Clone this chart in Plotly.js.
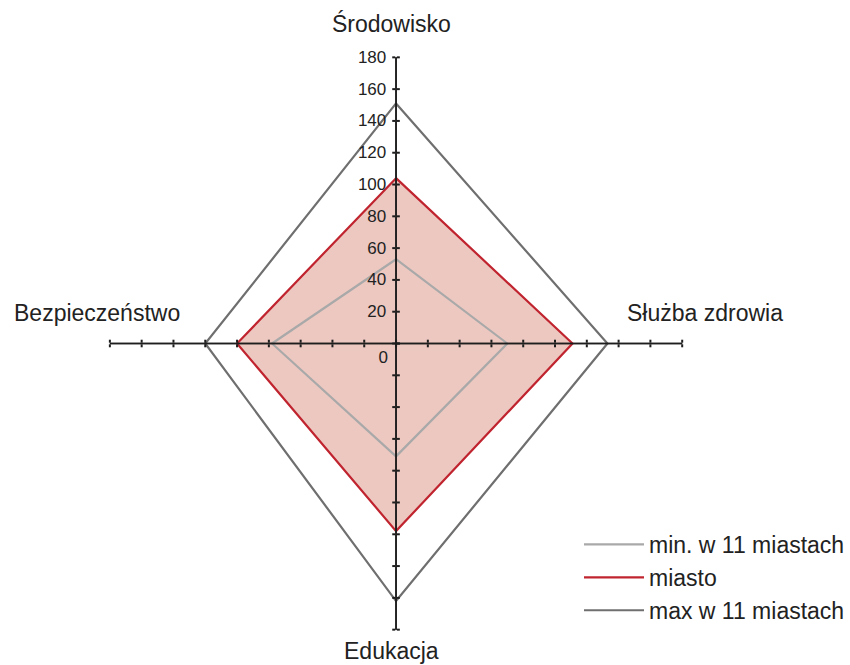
<!DOCTYPE html>
<html>
<head>
<meta charset="utf-8">
<script src="https://cdn.plot.ly/plotly-3.0.1.min.js"></script>
<style>html,body{margin:0;padding:0;background:#fff;}#chart{width:850px;height:665px;}</style>
</head>
<body>
<div id="chart"></div>
<script>
// ---- data ----
const categories = ['Środowisko', 'Służba zdrowia', 'Edukacja', 'Bezpieczeństwo'];
const minVals    = [53, 70, 71, 78];
const cityVals   = [104, 111, 118, 100];
const maxVals    = [151, 133, 162, 120];
const seriesNames = ['min. w 11 miastach', 'miasto', 'max w 11 miastach'];
const radialTicks = [0, 20, 40, 60, 80, 100, 120, 140, 160, 180];

// ---- styles ----
const FONT = '"Liberation Sans", Arial, Helvetica, sans-serif';
const TXT = '#222222';
const AXC = '#1e1e1e';
const W = 850, H = 665;
const dom = {x: [110 / W, 683 / W], y: [(H - 630) / H, (H - 57) / H]};
const closeRing = a => a.concat([a[0]]);
const theta = closeRing(categories);

const traces = [
  {type: 'scatterpolar', subplot: 'polar', r: closeRing(cityVals), theta: theta, mode: 'lines',
   fill: 'toself', fillcolor: 'rgba(218,140,125,0.48)', line: {width: 0, color: 'rgba(0,0,0,0)'},
   showlegend: false, hoverinfo: 'skip'},
  {type: 'scatterpolar', subplot: 'polar', r: closeRing(minVals), theta: theta, mode: 'lines',
   name: seriesNames[0], line: {color: '#a9a9a9', width: 2.2}, legendgroup: 'a'},
  {type: 'scatterpolar', subplot: 'polar', r: closeRing(cityVals), theta: theta, mode: 'lines',
   name: seriesNames[1], line: {color: '#c0242f', width: 2.2}, legendgroup: 'b'},
  {type: 'scatterpolar', subplot: 'polar', r: closeRing(maxVals), theta: theta, mode: 'lines',
   name: seriesNames[2], line: {color: '#6f6f6f', width: 2.2}, legendgroup: 'c'}
];

const layout = {
  width: W, height: H,
  margin: {l: 0, r: 0, t: 0, b: 0},
  paper_bgcolor: '#fff',
  font: {family: FONT, color: TXT, size: 16},
  showlegend: true,
  legend: {x: 580 / W, xanchor: 'left', y: 1 - 523 / H, yanchor: 'top',
           font: {size: 23, color: TXT, family: FONT}, bgcolor: 'rgba(0,0,0,0)',
           itemwidth: 60, tracegroupgap: 0},
  annotations: []
};

const angular = {type: 'category', categoryorder: 'array', categoryarray: categories,
                 rotation: 90, direction: 'clockwise', visible: false};

// polar subplots: one main with labels, and extra ones to draw the other arms of the cross
const arms = [
  {angle: 90, ticks: 'outside', labels: true},
  {angle: 90, ticks: 'inside', labels: false},
  {angle: 0, ticks: 'outside', labels: false},
  {angle: 0, ticks: 'inside', labels: false},
  {angle: 180, ticks: 'outside', labels: false},
  {angle: 180, ticks: 'inside', labels: false},
  {angle: 270, ticks: 'outside', labels: false},
  {angle: 270, ticks: 'inside', labels: false}
];
const labelTicks = radialTicks.filter(v => v !== 0);
arms.forEach((a, i) => {
  const key = i === 0 ? 'polar' : 'polar' + (i + 1);
  layout[key] = {
    domain: dom,
    bgcolor: 'rgba(0,0,0,0)',
    gridshape: 'linear',
    angularaxis: angular,
    radialaxis: {range: [0, 180], angle: a.angle, side: 'counterclockwise',
                 tickvals: a.labels ? labelTicks : radialTicks,
                 ticktext: (a.labels ? labelTicks : radialTicks).map(String), tickangle: 90,
                 showticklabels: a.labels, ticks: a.ticks, ticklen: 3, tickwidth: 2,
                 tickcolor: AXC, showline: true, linecolor: AXC, linewidth: 1.6,
                 showgrid: false, tickfont: {size: 17, color: TXT, family: FONT}}
  };
  if (i > 0) {
    traces.push({type: 'scatterpolar', subplot: key, r: [], theta: [], mode: 'lines',
                 showlegend: false, hoverinfo: 'skip'});
  }
});
// "0" label sits just below-left of the centre, as in the reference
layout.polar9 = {
  domain: {x: [dom.x[0] - 5 / W, dom.x[1] - 5 / W], y: [dom.y[0] - 14 / H, dom.y[1] - 14 / H]},
  bgcolor: 'rgba(0,0,0,0)', gridshape: 'linear', angularaxis: angular,
  radialaxis: {range: [0, 180], angle: 90, side: 'counterclockwise', tickvals: [radialTicks[0]],
               ticktext: [String(radialTicks[0])], tickangle: 90, ticks: '', showline: false,
               showgrid: false, tickfont: {size: 17, color: TXT, family: FONT}}
};
traces.push({type: 'scatterpolar', subplot: 'polar9', r: [], theta: [], mode: 'lines',
             showlegend: false, hoverinfo: 'skip'});

// category labels around the chart
const labelPos = [
  {x: 392, y: 24, xanchor: 'center'},
  {x: 626, y: 313, xanchor: 'left'},
  {x: 392, y: 651, xanchor: 'center'},
  {x: 182, y: 313, xanchor: 'right'}
];
categories.forEach((c, i) => {
  const p = labelPos[i];
  layout.annotations.push({text: c, xref: 'paper', yref: 'paper', x: p.x / W, y: 1 - p.y / H,
    xanchor: p.xanchor, yanchor: 'middle', showarrow: false,
    font: {size: 23, color: TXT, family: FONT}});
});

Plotly.newPlot('chart', traces, layout, {staticPlot: true});
</script>
</body>
</html>
